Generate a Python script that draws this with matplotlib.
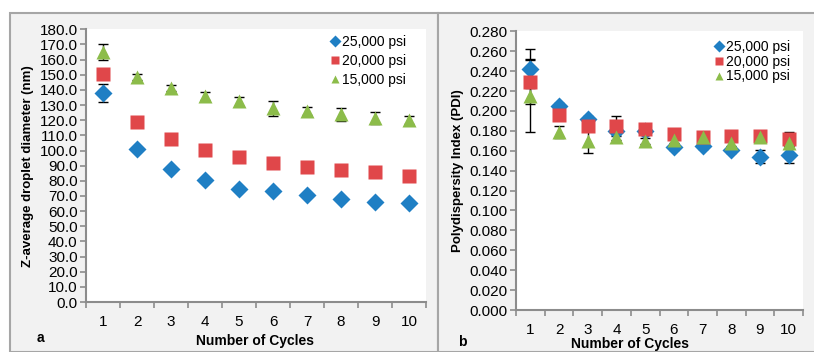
import matplotlib
matplotlib.use("Agg")
import matplotlib.pyplot as plt
from matplotlib.patches import Rectangle
from matplotlib.ticker import FixedLocator, FormatStrFormatter, NullFormatter
import numpy as np

plt.rcParams['font.family'] = ['Liberation Sans', 'DejaVu Sans']

# ── data ─────────────────────────────────────────────────────────────────────
cycles = [1, 2, 3, 4, 5, 6, 7, 8, 9, 10]
series = ["25,000 psi", "20,000 psi", "15,000 psi"]

# panel a: Z-average droplet diameter (nm)
z_25k = [137.8, 101.3, 87.5, 80.6, 74.9, 73.5, 70.6, 67.8, 66.2, 65.1]
z_20k = [150.7, 118.8, 107.4, 100.6, 95.9, 91.8, 89.3, 86.9, 85.6, 83.2]
z_15k = [164.8, 148.3, 141.5, 135.8, 132.5, 127.9, 126.1, 123.9, 121.7, 120.2]
z_25k_err = [6.0, 1.0, 1.0, 1.0, 1.0, 1.0, 1.0, 1.0, 1.0, 1.0]
z_20k_err = [1.5, 1.0, 1.0, 1.0, 1.0, 1.0, 1.0, 1.0, 1.0, 1.0]
z_15k_err = [5.3, 2.0, 2.0, 2.5, 2.8, 4.9, 2.8, 4.3, 4.0, 2.8]

# panel b: polydispersity index
p_25k = [0.2425, 0.205, 0.192, 0.180, 0.180, 0.164, 0.165, 0.161, 0.154, 0.1554]
p_20k = [0.2294, 0.1956, 0.185, 0.185, 0.182, 0.1765, 0.174, 0.175, 0.175, 0.1715]
p_15k = [0.2155, 0.179, 0.170, 0.1735, 0.170, 0.171, 0.1735, 0.1675, 0.1735, 0.168]
p_25k_err = [0.0195, 0.003, 0.003, 0.003, 0.003, 0.003, 0.003, 0.003, 0.0065, 0.0075]
p_20k_err = [0.022, 0.004, 0.004, 0.010, 0.003, 0.003, 0.003, 0.003, 0.003, 0.007]
p_15k_err = [0.0365, 0.006, 0.012, 0.003, 0.003, 0.003, 0.003, 0.003, 0.003, 0.003]

colors  = ["#1f7fc4", "#e0474a", "#8cbc4a"]
markers = ["D", "s", "^"]
msizes  = [9.5, 10, 10]

W, H = 814, 352
fig = plt.figure(figsize=(W / 100, H / 100), dpi=100)
fig.patch.set_facecolor("white")

# panel frames (light gray boxes with gray borders)
for x0, x1 in [(10, 438), (438, 816)]:
    fig.patches.append(Rectangle((x0 / W, 0), (x1 - x0) / W, (H - 13) / H,
                                 transform=fig.transFigure, facecolor="#f2f2f2",
                                 edgecolor="#a6a6a6", linewidth=1.5, zorder=-10))


def style_axes(ax, ymax, ystep, fmt):
    ax.set_facecolor("white")
    for s in ["top", "right"]:
        ax.spines[s].set_visible(False)
    for s in ["left", "bottom"]:
        ax.spines[s].set_color("#8c8c8c")
        ax.spines[s].set_linewidth(1.5)
    ax.set_xlim(0.5, 10.5)
    ax.set_ylim(0, ymax)
    ax.set_yticks(np.arange(0, ymax + ystep / 2, ystep))
    ax.yaxis.set_major_formatter(FormatStrFormatter(fmt))
    ax.set_xticks(cycles)
    ax.tick_params(axis="x", which="major", length=0, labelsize=11, pad=9)
    ax.xaxis.set_minor_locator(FixedLocator(np.arange(0.5, 10.6, 1)))
    ax.xaxis.set_minor_formatter(NullFormatter())
    ax.tick_params(axis="x", which="minor", length=4, color="#8c8c8c", width=1.2)
    ax.tick_params(axis="y", length=4, color="#8c8c8c", width=1.2, labelsize=11, pad=2)


def draw(ax, vals, errs):
    for v, e, c, m, ms, lab in zip(vals, errs, colors, markers, msizes, series):
        ax.errorbar(cycles, v, yerr=e, fmt="none", ecolor="black",
                    elinewidth=1, capsize=3.5, capthick=1, zorder=2)
        ax.plot(cycles, v, linestyle="none", marker=m, markersize=ms,
                color=c, markeredgecolor="none", label=lab, zorder=3)


def add_legend(ax, x, y, spacing):
    ax.legend(loc="upper left", bbox_to_anchor=(x / W, 1 - y / H),
              bbox_transform=fig.transFigure, frameon=False, fontsize=10,
              markerscale=0.6, handlelength=0.6, handletextpad=0.2,
              labelspacing=spacing, borderaxespad=0, borderpad=0)


# ── panel a ──────────────────────────────────────────────────────────────────
ax1 = fig.add_axes([86 / W, (H - 302) / H, 340 / W, 272.7 / H])
style_axes(ax1, 180, 10, "%.1f")
draw(ax1, [z_25k, z_20k, z_15k], [z_25k_err, z_20k_err, z_15k_err])
ax1.set_ylabel("Z-average droplet diameter (nm)", fontsize=9.5,
               fontweight="bold", labelpad=4)
add_legend(ax1, 331, 35, 0.35)

# ── panel b ──────────────────────────────────────────────────────────────────
ax2 = fig.add_axes([516 / W, (H - 310) / H, 287 / W, 278.7 / H])
style_axes(ax2, 0.28, 0.02, "%.3f")
draw(ax2, [p_25k, p_20k, p_15k], [p_25k_err, p_20k_err, p_15k_err])
ax2.set_ylabel("Polydispersity Index (PDI)", fontsize=9.5,
               fontweight="bold", labelpad=4)
add_legend(ax2, 715, 40, 0.05)

fig.text(255 / W, 1 - 341 / H, "Number of Cycles", fontsize=10,
         fontweight="bold", ha="center", va="center")
fig.text(630 / W, 1 - 344 / H, "Number of Cycles", fontsize=10,
         fontweight="bold", ha="center", va="center")
fig.text(40 / W, 1 - 338 / H, "a", fontsize=10, fontweight="bold",
         ha="center", va="center")
fig.text(462 / W, 1 - 342 / H, "b", fontsize=10, fontweight="bold",
         ha="center", va="center")

fig.savefig("out.png", dpi=100)
